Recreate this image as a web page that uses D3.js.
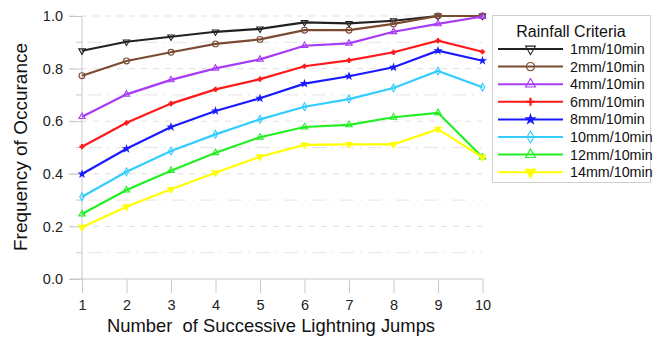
<!DOCTYPE html>
<html><head><meta charset="utf-8">
<script src="https://cdn.jsdelivr.net/npm/d3@7"></script>
<style>body{margin:0;background:#fff}svg{display:block;font-family:"Liberation Sans",Arial,sans-serif}</style>
</head><body><svg id="c" width="662" height="338"></svg>
<script>
const jumps = [1,2,3,4,5,6,7,8,9,10];
const seriesNames = ["1mm/10min","2mm/10min","4mm/10min","6mm/10min","8mm/10min","10mm/10min","12mm/10min","14mm/10min"];
const s1mm  = [0.868,0.902,0.921,0.940,0.951,0.976,0.972,0.982,1.000,1.000];
const s2mm  = [0.773,0.829,0.862,0.894,0.911,0.946,0.946,0.970,1.000,1.000];
const s4mm  = [0.617,0.702,0.757,0.801,0.835,0.887,0.896,0.940,0.970,0.998];
const s6mm  = [0.503,0.594,0.667,0.721,0.760,0.809,0.831,0.862,0.906,0.864];
const s8mm  = [0.399,0.495,0.578,0.639,0.687,0.743,0.771,0.805,0.868,0.830];
const s10mm = [0.313,0.408,0.487,0.550,0.607,0.655,0.684,0.726,0.791,0.729];
const s12mm = [0.247,0.338,0.412,0.480,0.539,0.578,0.586,0.615,0.632,0.463];
const s14mm = [0.197,0.275,0.341,0.404,0.465,0.510,0.512,0.512,0.570,0.463];
const yTicks = [0,0.2,0.4,0.6,0.8,1.0];
const yMinor = [0.1,0.3,0.5,0.7,0.9];
const colors = ["#222222","#7b4a33","#a83cf5","#ff1a1a","#1a1aff","#33ccff","#22ee22","#ffff00"];
const markers = ["tridown-open","circle-open","triup-open","plus","star","diamond-open","triup-open","tridown"];
const allValues = [s1mm,s2mm,s4mm,s6mm,s8mm,s10mm,s12mm,s14mm];

const svg = d3.select("#c");
const x = d3.scaleLinear().domain([1,10]).range([82,482.5]);
const y = d3.scaleLinear().domain([0,1]).range([279,16]);

// gridlines
const g = svg.append("g");
g.selectAll(".gmaj").data(yTicks.filter(d=>d>0)).join("line")
  .attr("x1",69).attr("x2",482).attr("y1",d=>y(d)).attr("y2",d=>y(d))
  .attr("stroke","#e0e0e0").attr("stroke-width",1).attr("stroke-dasharray","6,6");
g.selectAll(".gmin").data(yMinor).join("line")
  .attr("x1",88).attr("x2",482).attr("y1",d=>y(d)).attr("y2",d=>y(d))
  .attr("stroke","#e6e6e6").attr("stroke-width",1).attr("stroke-dasharray","14,6,2,6");

// y axis
const yAx = svg.append("g").attr("transform","translate(82,0)")
  .call(d3.axisLeft(y).tickValues(yTicks).tickFormat(d3.format(".1f")).tickSize(13).tickPadding(6));
yAx.select(".domain").attr("stroke","#c8c8c8").attr("d","M0,279V16");
yAx.selectAll(".tick line").attr("stroke","#c8c8c8");
yAx.selectAll("text").attr("font-size",14.5).attr("fill","#222");
svg.append("g").selectAll("line").data(yMinor).join("line")
  .attr("x1",76).attr("x2",82).attr("y1",d=>y(d)).attr("y2",d=>y(d)).attr("stroke","#c8c8c8");

// x axis
const xAx = svg.append("g").attr("transform","translate(0,279)")
  .call(d3.axisBottom(x).tickValues(jumps).tickFormat(d3.format("d")).tickSize(14).tickPadding(7));
xAx.select(".domain").attr("stroke","#c8c8c8").attr("d","M70,0H482.5");
xAx.selectAll(".tick line").attr("stroke","#c8c8c8");
xAx.selectAll("text").attr("font-size",14.5).attr("fill","#222");

// titles
svg.append("text").attr("x",271).attr("y",332).attr("text-anchor","middle")
  .attr("font-size",18.4).attr("fill","#111").attr("xml:space","preserve").text("Number  of Successive Lightning Jumps");
svg.append("text").attr("transform","translate(27,147) rotate(-90)").attr("text-anchor","middle")
  .attr("font-size",19).attr("fill","#111").text("Frequency of Occurance");

function drawMarker(sel, type, color, r){
  const sym = {
    "tridown-open":[d3.symbolTriangle,180,false],
    "tridown":[d3.symbolTriangle,180,true],
    "triup-open":[d3.symbolTriangle,0,false],
    "circle-open":[d3.symbolCircle,0,false],
    "diamond-open":[d3.symbolDiamond,0,false],
    "star":[d3.symbolStar,0,true],
  }[type];
  if(type==="plus"){
    sel.append("path").attr("d",`M${-r},0H${r}M0,${-r}V${r}`).attr("stroke",color).attr("stroke-width",2.2);
    return;
  }
  const area = type==="star" ? r*r*1.6 : r*r*2.6;
  sel.append("path").attr("d",d3.symbol(sym[0], area)()).attr("transform",`rotate(${sym[1]})`)
    .attr("fill",sym[2]?color:"none").attr("stroke",color).attr("stroke-width",1.1);
}

// series
const line = d3.line().x((d,i)=>x(jumps[i])).y(d=>y(d));
allValues.forEach((vals,k)=>{
  const gg = svg.append("g");
  gg.append("path").datum(vals).attr("d",line).attr("fill","none")
    .attr("stroke",colors[k]).attr("stroke-width",2.2);
  vals.forEach((v,i)=>{
    const m = gg.append("g").attr("transform",`translate(${x(jumps[i])},${y(v)})`);
    drawMarker(m, markers[k], colors[k], k===1?3.2:2.6);
  });
});

// legend
const lg = svg.append("g");
lg.append("rect").attr("x",492.5).attr("y",15.5).attr("width",158).attr("height",167)
  .attr("fill","#fff").attr("stroke","#cfcfcf");
lg.append("text").attr("x",571).attr("y",37).attr("text-anchor","middle").attr("font-size",16).attr("fill","#111").text("Rainfall Criteria");
seriesNames.forEach((n,k)=>{
  const cy = 49 + k*17.6;
  lg.append("line").attr("x1",498).attr("x2",563).attr("y1",cy).attr("y2",cy).attr("stroke",colors[k]).attr("stroke-width",2);
  const m = lg.append("g").attr("transform",`translate(530.5,${cy})`);
  drawMarker(m, markers[k], colors[k], k===1?4.5:4);
  lg.append("text").attr("x",570).attr("y",cy+5).attr("font-size",14.3).attr("fill","#111").text(n);
});
</script></body></html>
